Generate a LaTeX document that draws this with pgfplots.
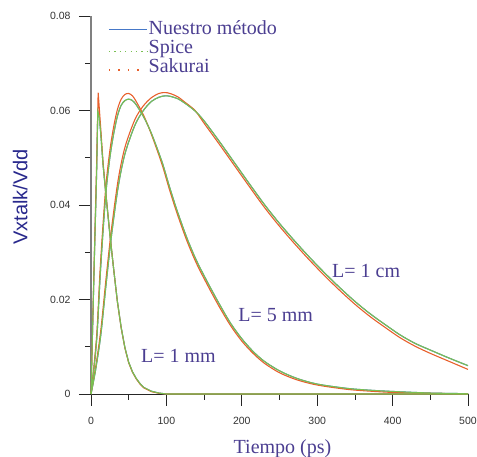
\documentclass[border=0pt]{standalone}
\usepackage{pgfplots}
\pgfplotsset{compat=1.18}
\usepackage{pgfplotstable}
\usepackage{fontspec}
\setmainfont{Liberation Serif}
\setsansfont{Liberation Sans}

\definecolor{corange}{RGB}{232,96,44}
\definecolor{cgreen}{RGB}{122,192,82}
\definecolor{cblue}{RGB}{70,120,200}
\definecolor{ctext}{RGB}{75,62,145}
\definecolor{cylab}{RGB}{40,40,140}

\pgfplotsset{
  legNM/.style={legend image code/.code={\draw[cblue, line width=1.1pt] (0pt,-1pt) -- (38pt,-1pt);}},
  legSP/.style={legend image code/.code={\draw[cgreen, line width=1.3pt, dash pattern=on 1.2pt off 4.2pt] (0pt,-4pt) -- (38pt,-4pt);}},
  legSK/.style={legend image code/.code={\draw[corange, line width=1.5pt, dash pattern=on 1.5pt off 8pt] (0pt,-4pt) -- (38pt,-4pt);}},
}

% L = 1 mm
\pgfplotstableread{
t v
0 0
2 0.0135
5 0.033
7.5 0.049
9.5 0.0638
11 0.0605
13 0.056
16 0.049
20 0.042
25 0.034
30 0.0265
35 0.0195
40 0.014
45 0.0097
50 0.0066
55 0.0046
60 0.0032
65 0.0021
70 0.0013
80 0.0005
90 0.00015
100 0
500 0
}\Oone
\pgfplotstableread{
t v
0 0
2 0.013
5 0.032
7.5 0.047
9 0.0598
11 0.0585
13 0.055
16 0.0485
20 0.0418
25 0.0338
30 0.0265
35 0.0196
40 0.0141
45 0.0098
50 0.0067
55 0.0047
60 0.0033
65 0.0022
70 0.0014
80 0.0006
90 0.0002
100 0
500 0
}\Gone
% L = 5 mm
\pgfplotstableread{
t v
0 0
4 0.006
8 0.0135
12 0.026
16 0.036
20 0.0445
25 0.0515
30 0.0565
35 0.0602
40 0.0624
45 0.0634
50 0.0636
55 0.0631
60 0.0619
70 0.0589
80 0.0550
94 0.0487
104 0.0433
114 0.0383
127 0.0325
140 0.0276
155 0.0229
170 0.0185
185 0.0145
200 0.0112
215 0.0086
230 0.0065
250 0.0045
273 0.0030
300 0.0019
339 0.0010
370 0.0006
405 0.0003
450 0.00015
485 0.00005
500 0
}\Ofive
\pgfplotstableread{
t v
0 0
4 0.0055
8 0.0125
12 0.0245
16 0.0345
20 0.043
25 0.050
30 0.055
35 0.0588
40 0.0611
45 0.0621
50 0.0624
55 0.0621
60 0.0612
70 0.0586
80 0.0552
94 0.0492
104 0.0439
114 0.0389
127 0.0331
140 0.0282
155 0.0235
170 0.0191
185 0.0150
200 0.0117
215 0.0090
230 0.0069
250 0.0049
273 0.0033
300 0.0021
339 0.0012
370 0.0008
405 0.0005
450 0.0002
485 0.0001
500 0
}\Gfive
% L = 1 cm
\pgfplotstableread{
t v
0 0
6 0.0055
13 0.0135
20 0.0245
27 0.0347
36 0.0453
45 0.0522
58 0.0580
69 0.0609
80 0.0627
90 0.0636
98 0.0638
105 0.0636
115 0.0629
125 0.0617
138 0.0600
150 0.0573
170 0.0529
190 0.0484
210 0.0439
230 0.0395
250 0.0355
270 0.0318
290 0.0283
310 0.0250
330 0.0219
350 0.0190
370 0.0164
390 0.0141
410 0.0119
430 0.0101
450 0.0086
475 0.0069
500 0.0052
}\Oten
\pgfplotstableread{
t v
0 0
6 0.005
13 0.0125
20 0.0232
27 0.0333
36 0.0438
45 0.0508
58 0.0568
69 0.0599
80 0.0619
90 0.0628
98 0.0631
105 0.0630
115 0.0625
125 0.0615
138 0.0599
150 0.0578
170 0.0535
190 0.0490
210 0.0445
230 0.0401
250 0.0361
270 0.0324
290 0.0289
310 0.0256
330 0.0225
350 0.0196
370 0.0170
390 0.0147
410 0.0125
430 0.0107
450 0.0093
475 0.0076
500 0.0060
}\Gten

\begin{document}
\begin{tikzpicture}
\begin{axis}[
  scale only axis, width=377pt, height=378pt,
  xmin=0, xmax=500, ymin=0, ymax=0.08,
  clip=false,
  axis x line=bottom, axis y line=left,
  axis line style={-},
  x axis line style={black!85, line width=0.7pt},
  y axis line style={gray, line width=1.5pt},
  xtick={0,100,200,300,400,500}, xticklabels={0,100,200,300,400,500},
  ytick={0,0.02,0.04,0.06,0.08}, yticklabels={0,0.02,0.04,0.06,0.08},
  minor xtick={50,150,250,350,450},
  minor ytick={0.01,0.03,0.05,0.07},
  scaled ticks=false,
  tick align=outside,
  major tick length=12pt, minor tick length=6pt,
  tick style={black!85, line width=0.6pt},
  tick label style={font=\sffamily\fontsize{10.5}{12}\selectfont, text=black!80},
  xticklabel style={yshift=-8pt},
  yticklabel style={xshift=-5pt},
  xlabel={Tiempo (ps)},
  xlabel style={at={(axis description cs:0.508,-0.145)}, anchor=center,
    font=\fontsize{20}{24}\selectfont, text=ctext},
  ylabel={Vxtalk/Vdd},
  ylabel style={at={(axis description cs:-0.188,0.521)}, anchor=center,
    font=\sffamily\fontsize{20}{24}\selectfont, text=cylab},
  legend style={at={(axis description cs:0.045,0.99)}, anchor=north west,
    draw=none, fill=none, font=\fontsize{20}{20}\selectfont, text=ctext,
    row sep=1.5pt, inner sep=0pt, nodes={inner sep=1pt, anchor=west}},
  legend cell align=left,
]
\coordinate (O) at (axis cs:0,0);
\addlegendimage{legNM}\addlegendentry{Nuestro método}
\addlegendimage{legSP}\addlegendentry{Spice}
\addlegendimage{legSK}\addlegendentry{Sakurai}

\addplot[cblue, line width=1.1pt, forget plot] table {\Gone};
\addplot[cblue, line width=1.1pt, smooth, forget plot] table {\Gfive};
\addplot[cblue, line width=1.1pt, smooth, forget plot] table {\Gten};

\addplot[corange, line width=1.1pt, forget plot] table {\Oone};
\addplot[corange, line width=1.1pt, smooth, forget plot] table {\Ofive};
\addplot[corange, line width=1.1pt, smooth, forget plot] table {\Oten};

\addplot[cgreen, line width=1.1pt, forget plot] table {\Gone};
\addplot[cgreen, line width=1.1pt, smooth, forget plot] table {\Gfive};
\addplot[cgreen, line width=1.1pt, smooth, forget plot] table {\Gten};

\node[font=\fontsize{20}{24}\selectfont, text=ctext] at (axis cs:365,0.026) {L= 1 cm};
\node[font=\fontsize{20}{24}\selectfont, text=ctext] at (axis cs:245,0.0167) {L= 5 mm};
\node[font=\fontsize{20}{24}\selectfont, text=ctext] at (axis cs:116,0.008) {L= 1 mm};
\end{axis}
\pgfresetboundingbox
\path[use as bounding box] ([shift={(-91pt,-63pt)}]O) rectangle ([shift={(386pt,394pt)}]O);
\end{tikzpicture}
\end{document}
